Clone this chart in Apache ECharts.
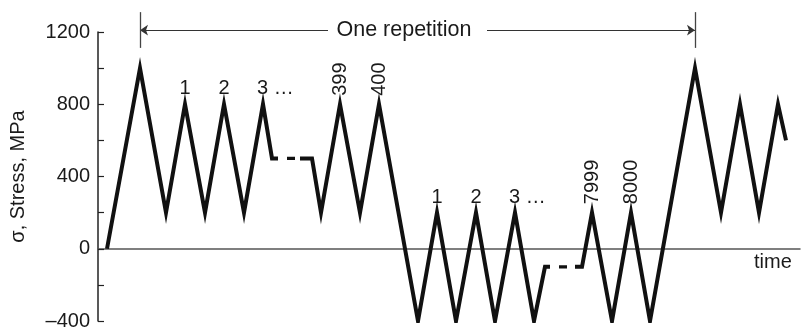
<!DOCTYPE html>
<html>
<head>
<meta charset="utf-8">
<script src="https://cdn.jsdelivr.net/npm/echarts@6/dist/echarts.min.js"></script>
<style>html,body{margin:0;padding:0;background:#fff;}#c{width:804px;height:331px;}</style>
</head>
<body>
<div id="c"></div>
<script>
// ---- data (time in arbitrary units, stress in MPa); null = break for dashed gap ----
const time   = [9, 42, 68, 87, 107, 126, 146, 165, 174, 180, null, 202, 214, 223, 242, 262, 281, 320, 339, 358, 378, 397, 417, 436, 447, 452, null, 477, 484, 494, 514, 533, 552, 597, 623, 642, 661, 680, 688];
const stress = [0, 1000, 200, 800, 200, 800, 200, 800, 500, 500, null, 500, 500, 200, 800, 200, 800, -400, 200, -400, 200, -400, 200, -400, -100, -100, null, -100, -100, 200, -400, 200, -400, 1000, 200, 800, 200, 800, 600];
// dashed (omitted cycles) segments
const gap1Time = [180, 202], gap1Stress = [500, 500];
const gap2Time = [452, 477], gap2Stress = [-100, -100];
// cycle-count labels
const peakLabels  = ['1', '2', '3 \u2026', '399', '400', '1', '2', '3 \u2026', '7999', '8000'];
const peakIndex   = [3, 5, 7, 14, 16, 18, 20, 22, 29, 31];
const peakRotated = [false, false, false, true, true, false, false, false, true, true];
// y-axis ticks
const yMin = -400, yMax = 1200, yStep = 400;
// repetition annotation
const repStartIdx = 1, repEndIdx = 33;
const repArrowStress = 1210, repTickTop = 1310, repTickBottom = 1112;
const repTextTime = 306, repLeftEnd = 230, repRightStart = 389;
const repText = 'One repetition';

const FONT = 'Liberation Sans, Arial, Helvetica, sans-serif';
const TXT = '#1a1a1a';

const mainData = time.map((t, i) => (t === null ? ['-', '-'] : [t, stress[i]]));
const labelData = peakIndex.map((idx, k) => {
  const rot = peakRotated[k];
  return {
    value: [time[idx], stress[idx]],
    label: rot
      ? { formatter: peakLabels[k], rotate: 90, position: 'top', distance: 8, align: 'left', verticalAlign: 'middle' }
      : (peakLabels[k].length > 1
          ? { formatter: peakLabels[k], position: 'top', distance: 5, align: 'left', offset: [-6, 0] }
          : { formatter: peakLabels[k], position: 'top', distance: 5 })
  };
});
const tS = time[repStartIdx], tE = time[repEndIdx];

const chart = echarts.init(document.getElementById('c'), null, { renderer: 'canvas' });
chart.setOption({
  animation: false,
  backgroundColor: '#fff',
  grid: { left: 98, right: 4, top: 32, bottom: 9, containLabel: false },
  xAxis: {
    type: 'value', min: 0, max: 702,
    axisLine: { show: true, onZero: true, lineStyle: { color: '#555', width: 1.5 } },
    axisTick: { show: false }, axisLabel: { show: false }, splitLine: { show: false },
    name: 'time', nameLocation: 'end', nameGap: -46,
    nameTextStyle: { fontFamily: FONT, fontSize: 20, color: TXT, align: 'left', verticalAlign: 'top', padding: [4, 0, 0, 0] }
  },
  yAxis: {
    type: 'value', min: yMin, max: yMax, interval: yStep,
    axisLine: { show: true, lineStyle: { color: '#222', width: 1.5 } },
    axisTick: { show: true, inside: true, length: 6, lineStyle: { color: '#222', width: 1.2 } },
    minorTick: { show: true, splitNumber: 2, length: 6, lineStyle: { color: '#222', width: 1.2 } },
    splitLine: { show: false }, minorSplitLine: { show: false },
    axisLabel: { fontFamily: FONT, fontSize: 20, color: TXT, margin: 8, formatter: v => String(v).replace('-', '\u2013') },
    name: '\u03c3, Stress, MPa', nameLocation: 'middle', nameGap: 70, nameRotate: 90,
    nameTextStyle: { fontFamily: FONT, fontSize: 20, color: TXT }
  },
  series: [
    {
      type: 'line', data: mainData, symbol: 'none', connectNulls: false, silent: true,
      lineStyle: { color: '#111', width: 4, join: 'miter' }, z: 5
    },
    {
      type: 'line', data: gap1Time.map((t, i) => [t, gap1Stress[i]]), symbol: 'none', silent: true,
      lineStyle: { color: '#111', width: 3.2, type: [8, 9], dashOffset: 8 }, z: 5
    },
    {
      type: 'line', data: gap2Time.map((t, i) => [t, gap2Stress[i]]), symbol: 'none', silent: true,
      lineStyle: { color: '#111', width: 3.2, type: [8, 9], dashOffset: 8 }, z: 5
    },
    {
      type: 'scatter', data: labelData, symbolSize: 1, clip: false, silent: true,
      itemStyle: { color: '#fff', opacity: 1 },
      label: { show: true, fontFamily: FONT, fontSize: 20, color: TXT, opacity: 1 }, z: 4
    },
    {
      type: 'lines', coordinateSystem: 'cartesian2d', clip: false, silent: true,
      symbol: ['none', 'arrow'], symbolSize: [6, 8],
      lineStyle: { color: '#333', width: 1.1, opacity: 1, curveness: 0 },
      data: [
        { coords: [[repLeftEnd, repArrowStress], [tS, repArrowStress]] },
        { coords: [[repRightStart, repArrowStress], [tE, repArrowStress]] }
      ]
    },
    {
      type: 'lines', coordinateSystem: 'cartesian2d', clip: false, silent: true,
      symbol: ['none', 'none'],
      lineStyle: { color: '#444', width: 1.3, opacity: 1, curveness: 0 },
      data: [
        { coords: [[tS, repTickTop], [tS, repTickBottom]] },
        { coords: [[tE, repTickTop], [tE, repTickBottom]] }
      ]
    },
    {
      type: 'scatter', data: [[repTextTime, repArrowStress]], symbolSize: 1, clip: false, silent: true,
      itemStyle: { color: '#fff', opacity: 1 },
      label: { show: true, position: 'inside', formatter: repText, fontFamily: FONT, fontSize: 21.5, color: TXT, opacity: 1 }
    }
  ]
});
</script>
</body>
</html>
